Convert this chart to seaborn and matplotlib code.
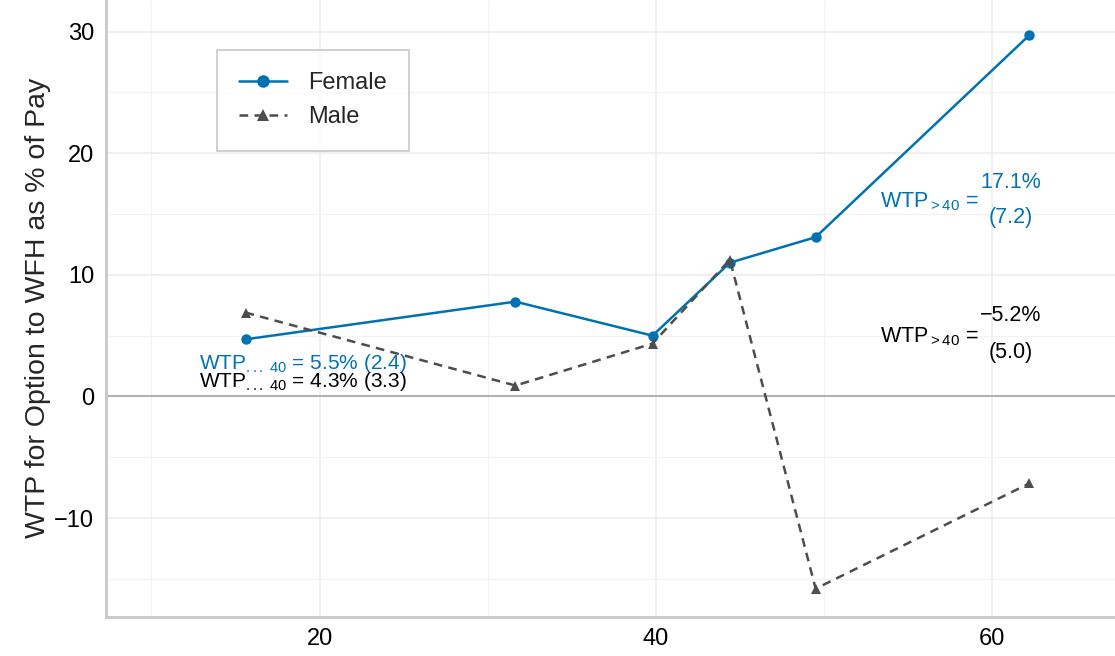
import matplotlib
matplotlib.use('Agg')
import matplotlib.pyplot as plt
import pandas as pd
import seaborn as sns
from matplotlib.ticker import MultipleLocator

# values
age = [15.6, 31.65, 39.8, 44.4, 49.5, 62.2]
female_wtp = [4.7, 7.8, 5.0, 11.0, 13.1, 29.7]
male_wtp = [6.9, 0.9, 4.35, 11.25, -15.8, -7.15]

blue = '#0072B2'
grey = '#4D4D4D'

df = pd.DataFrame({
    'age': age * 2,
    'wtp': female_wtp + male_wtp,
    'sex': ['Female'] * len(age) + ['Male'] * len(age),
})

sns.set_style('white')
plt.rcParams['font.family'] = ['Liberation Sans', 'DejaVu Sans']
plt.rcParams['mathtext.fontset'] = 'custom'
plt.rcParams['mathtext.rm'] = 'Liberation Sans'
plt.rcParams['mathtext.it'] = 'Liberation Sans:italic'

fig, ax = plt.subplots(figsize=(11.15, 6.56), dpi=100)

ax.axhline(0, color='#B3B3B3', lw=1.5, zorder=1)

sns.lineplot(data=df, x='age', y='wtp', hue='sex', style='sex',
             palette={'Female': blue, 'Male': grey},
             markers={'Female': 'o', 'Male': '^'},
             dashes={'Female': '', 'Male': (3.5, 2.5)},
             markersize=7.5, markeredgewidth=0, linewidth=1.8, ax=ax, zorder=3)

ax.set_xlim(7.3, 67.3)
ax.set_ylim(-18.1, 32.6)
ax.xaxis.set_major_locator(MultipleLocator(20))
ax.xaxis.set_minor_locator(MultipleLocator(10))
ax.yaxis.set_major_locator(MultipleLocator(10))
ax.yaxis.set_minor_locator(MultipleLocator(5))
ax.grid(which='major', color='#EBEBEB', lw=1.1)
ax.grid(which='minor', color='#F2F2F2', lw=0.8)
ax.set_axisbelow(True)

for s in ['top', 'right']:
    ax.spines[s].set_visible(False)
for s in ['left', 'bottom']:
    ax.spines[s].set_color('#C8C8C8')
    ax.spines[s].set_linewidth(2)

ax.tick_params(which='major', length=5, width=1.5, color='#333333', labelsize=17, labelcolor='black')
ax.tick_params(which='minor', length=0)
ax.set_xlabel('')
ax.set_ylabel('WTP for Option to WFH as % of Pay', fontsize=20.5, labelpad=2)

leg = ax.legend(title=None, loc='upper left', bbox_to_anchor=(0.11, 0.919),
                fontsize=17, frameon=True, fancybox=False, borderpad=0.95,
                handlelength=2.0, handletextpad=0.9, labelspacing=0.5,
                markerscale=1.2, borderaxespad=0)
leg.get_frame().set_edgecolor('#BBBBBB')
leg.get_frame().set_linewidth(1.2)

# annotations
ax.text(12.85, 2.7, r'WTP$_{...\ 40}$ = 5.5% (2.4)', color=blue, fontsize=15, va='center')
ax.text(12.85, 1.2, r'WTP$_{...\ 40}$ = 4.3% (3.3)', color='black', fontsize=15, va='center')

ax.text(53.3, 16.0, r'WTP$_{{>}40}$ =', color=blue, fontsize=15.5, va='center')
ax.text(61.1, 17.6, '17.1%', color=blue, fontsize=15.5, va='center', ha='center')
ax.text(61.1, 14.7, '(7.2)', color=blue, fontsize=15.5, va='center', ha='center')

ax.text(53.3, 4.9, r'WTP$_{{>}40}$ =', color='black', fontsize=15.5, va='center')
ax.text(61.1, 6.65, '\u22125.2%', color='black', fontsize=15.5, va='center', ha='center')
ax.text(61.1, 3.6, '(5.0)', color='black', fontsize=15.5, va='center', ha='center')

fig.subplots_adjust(left=0.095, right=1.0, bottom=0.06, top=1.0)
fig.savefig('out.png', dpi=100)
